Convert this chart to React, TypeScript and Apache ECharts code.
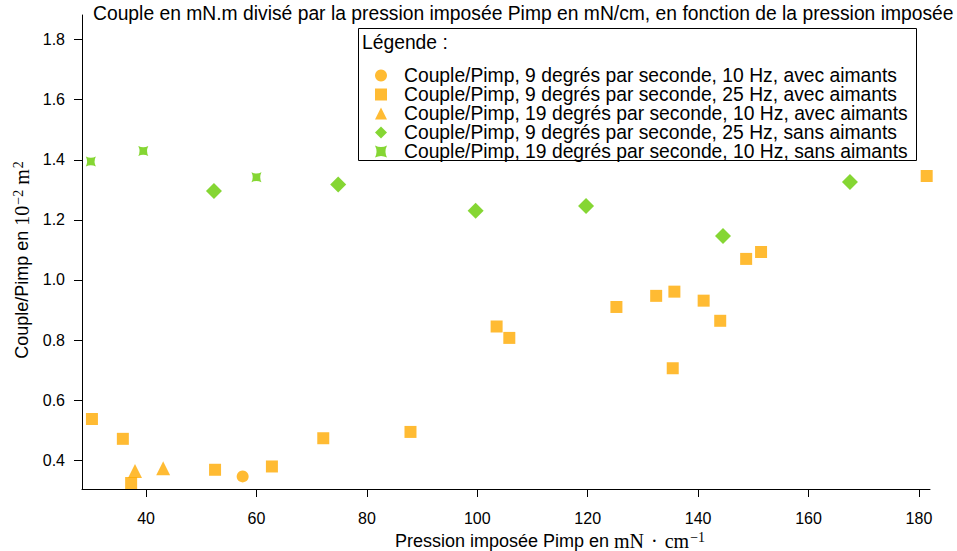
import React, { useEffect, useRef } from "react";
import * as echarts from "echarts";

const titleText =
  "Couple en mN.m divisé par la pression imposée Pimp en mN/cm, en fonction de la pression imposée";

const seriesNames = [
  "Couple/Pimp, 9 degrés par seconde, 10 Hz, avec aimants",
  "Couple/Pimp, 9 degrés par seconde, 25 Hz, avec aimants",
  "Couple/Pimp, 19 degrés par seconde, 10 Hz, avec aimants",
  "Couple/Pimp, 9 degrés par seconde, 25 Hz, sans aimants",
  "Couple/Pimp, 19 degrés par seconde, 10 Hz, sans aimants",
];

// 9°/s, 10 Hz, avec aimants
const s1 = [[57.5, 0.346]];
// 9°/s, 25 Hz, avec aimants
const s2 = [
  [30.2, 0.537],
  [35.8, 0.471],
  [37.3, 0.324],
  [52.5, 0.368],
  [62.8, 0.379],
  [72.1, 0.473],
  [87.9, 0.494],
  [103.5, 0.845],
  [105.8, 0.807],
  [125.2, 0.91],
  [132.4, 0.947],
  [135.7, 0.961],
  [135.4, 0.706],
  [141.0, 0.931],
  [144.0, 0.864],
  [148.7, 1.07],
  [151.4, 1.093],
  [181.4, 1.346],
];
// 19°/s, 10 Hz, avec aimants
const s3 = [
  [38.0, 0.364],
  [43.1, 0.373],
];
// 9°/s, 25 Hz, sans aimants
const s4 = [
  [52.3, 1.296],
  [74.8, 1.318],
  [99.7, 1.23],
  [119.7, 1.246],
  [144.5, 1.146],
  [167.5, 1.326],
];
// 19°/s, 10 Hz, sans aimants
const s5 = [
  [30.0, 1.394],
  [39.5, 1.429],
  [60.0, 1.342],
];

const xTicks = [40, 60, 80, 100, 120, 140, 160, 180];
const yTicks = [0.4, 0.6, 0.8, 1.0, 1.2, 1.4, 1.6, 1.8];

const ORANGE = "#FFAA00";
const GREEN = "#66CC00";
const FONT = "Liberation Sans, Arial, Helvetica, sans-serif";
const SERIF = "Liberation Serif, DejaVu Serif, serif";
const HOURGLASS = "path://M0,0 Q5,2.5 10,0 Q7.5,5 10,10 Q5,7.5 0,10 Q2.5,5 0,0 Z";
const BIG = 19.3;

export default function App() {
  const ref = useRef<HTMLDivElement>(null);
  useEffect(() => {
    document.body.style.margin = "0";
    if (!ref.current) return;
    const chart = echarts.init(ref.current, null, { renderer: "svg" });
    const axisCommon = {
      axisLine: { show: true, onZero: false, lineStyle: { color: "#000", width: 1 } },
      axisTick: { show: true, inside: false, length: 8, lineStyle: { color: "#000" } },
      splitLine: { show: false },
    };
    const mathRich = {
      s: { fontFamily: FONT, fontSize: 18, color: "#000", lineHeight: 20 },
      m: { fontFamily: SERIF, fontSize: 20, color: "#000", lineHeight: 20 },
      d: { fontFamily: SERIF, fontSize: 20, color: "#000", lineHeight: 20, padding: [0, 7, 0, 7] },
      sup: { fontFamily: SERIF, fontSize: 14, color: "#000", lineHeight: 12, verticalAlign: "top", padding: [0, 0, 0, 1] },
    };
    chart.setOption({
      animation: false,
      backgroundColor: "#fff",
      title: {
        text: titleText,
        left: 93,
        top: 4,
        padding: 0,
        textStyle: { fontFamily: FONT, fontSize: BIG, fontWeight: "normal", color: "#000" },
      },
      grid: { left: 82, right: 27, top: 15, bottom: 62, containLabel: false, outerBoundsMode: "none" },
      xAxis: {
        type: "value",
        min: 28.4,
        max: 182,
        ...axisCommon,
        axisTick: { ...axisCommon.axisTick, customValues: xTicks },
        axisLabel: {
          customValues: xTicks,
          margin: 21,
          fontFamily: FONT,
          fontSize: 16,
          color: "#000",
        },
        name: "{s|Pression imposée Pimp en }{m|mN}{d|·}{m|cm}{sup|−1}",
        nameLocation: "middle",
        nameGap: 33,
        nameTextStyle: {
          padding: [0, 0, 0, 88],
          rich: mathRich,
        },
      },
      yAxis: {
        type: "value",
        min: 0.304,
        max: 1.882,
        ...axisCommon,
        axisTick: { ...axisCommon.axisTick, customValues: yTicks },
        axisLabel: {
          customValues: yTicks,
          margin: 17,
          fontFamily: FONT,
          fontSize: 16,
          color: "#000",
          formatter: (v: number) => v.toFixed(1),
        },
        name: "{s|Couple/Pimp en }{m|10}{sup|−2}{m| m}{sup|2}",
        nameLocation: "middle",
        nameGap: 50,
        nameRotate: 90,
        nameTextStyle: {
          padding: [0, 16, 0, 0],
          rich: mathRich,
        },
      },
      legend: {
        orient: "vertical",
        left: 375,
        top: 66,
        itemWidth: 12,
        itemHeight: 12,
        itemGap: 0,
        padding: 0,
        data: seriesNames,
        textStyle: {
          fontFamily: FONT,
          fontSize: BIG,
          color: "#000",
          lineHeight: 18.2,
          padding: [0, 0, 0, 12],
        },
      },
      graphic: [
        {
          type: "rect",
          shape: { x: 358.5, y: 28.5, width: 558, height: 132 },
          style: { fill: "#fff", stroke: "#000", lineWidth: 1 },
          z: -1,
        },
        {
          type: "text",
          x: 362,
          y: 33,
          style: { text: "Légende :", fontFamily: FONT, fontSize: BIG, fill: "#000" },
        },
      ],
      series: [
        { name: seriesNames[0], type: "scatter", symbol: "circle", symbolSize: 12, data: s1, itemStyle: { color: ORANGE } },
        { name: seriesNames[1], type: "scatter", symbol: "rect", symbolSize: 12, data: s2, itemStyle: { color: ORANGE } },
        { name: seriesNames[2], type: "scatter", symbol: "triangle", symbolSize: 14, data: s3, itemStyle: { color: ORANGE } },
        { name: seriesNames[3], type: "scatter", symbol: "diamond", symbolSize: 16, data: s4, itemStyle: { color: GREEN } },
        { name: seriesNames[4], type: "scatter", symbol: HOURGLASS, symbolSize: 10, data: s5, itemStyle: { color: GREEN } },
      ],
    });
    return () => chart.dispose();
  }, []);
  return <div ref={ref} style={{ width: 957, height: 551 }} />;
}
